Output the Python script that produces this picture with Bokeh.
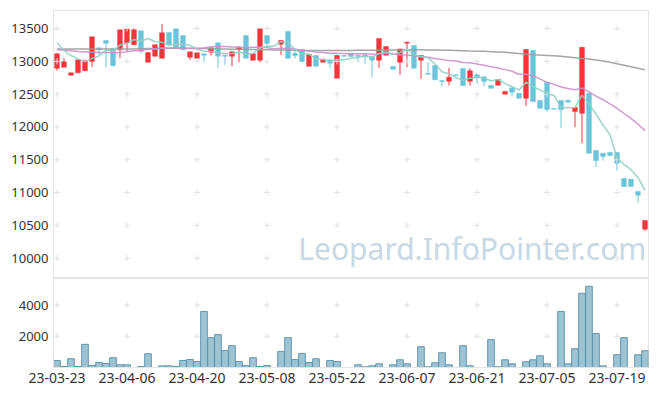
import numpy as np
from bokeh.plotting import figure
from bokeh.layouts import column
from bokeh.models import ColumnDataSource, Range1d, FixedTicker, Label
from bokeh.embed import file_html
from bokeh.resources import INLINE

# ---------------- data ----------------
tick_labels = ["23-03-23", "23-04-06", "23-04-20", "23-05-08", "23-05-22",
               "23-06-07", "23-06-21", "23-07-05", "23-07-19"]

opens = [12895, 12910, 12788, 12825, 12855, 12999, 13206, 13317, 13190, 13175,
         13282, 13252, 13465, 12987, 13078, 13047, 13439, 13495, 13393, 13063,
         13047, 13114, 13139, 13282, 13093, 13078, 13180, 13393, 13017, 13017,
         13393, None, 13261, 13454, 13119, 13180, 12926, 13089, 12987, 13023,
         12743, 13089, 13124, 13093, 13099, 13073, 13017, 13093, 12921, 12987,
         13276, 13241, 13017, 12814, 12936, 12707, 12697, 12794, 12890, 12697,
         12794, 12764, 12631, 12636, 12499, 12596, 12514, 12438, 13165, 12403,
         12682, 12281, 12403, 12408, 12235, 12209, 12514, 11641, 11600, 11610,
         11610, 11214, 11204, 11016, 10442]
closes = [13114, 12993, 12825, 13023, 13008, 13374, 13175, 13276, 12936, 13480,
          13495, 13480, 13150, 13134, 13252, 13434, 13256, 13215, 13175, 13145,
          13130, 13093, 13206, 13078, 13078, 13145, 13210, 13047, 13114, 13495,
          13276, None, 13317, 13047, 13089, 12997, 13104, 12926, 13033, 12972,
          13089, 13078, 13073, 13073, 13073, 13017, 13348, 13226, 12880, 13190,
          13291, 12895, 13089, 12804, 12718, 12692, 12758, 12784, 12631, 12855,
          12753, 12692, 12590, 12723, 12540, 12529, 12438, 13180, 12387, 12285,
          12266, 12271, 12266, 12377, 12296, 13215, 11600, 11488, 11549, 11565,
          11447, 11092, 11092, 10960, 10574]
highs = [13130, 13047, 12825, 13023, 13008, 13374, 13206, 13317, 13190, 13480,
         13495, 13500, 13465, 13134, 13252, 13571, 13439, 13495, 13393, 13145,
         13130, 13114, 13206, 13282, 13093, 13145, 13226, 13393, 13114, 13495,
         13393, None, 13317, 13454, 13165, 13180, 13104, 13089, 13033, 13023,
         13089, 13089, 13124, 13093, 13099, 13073, 13348, 13226, 12921, 13190,
         13302, 13241, 13089, 12987, 12936, 12707, 12901, 12794, 12890, 12895,
         12819, 12764, 12631, 12723, 12540, 12596, 12514, 13180, 13165, 12403,
         12682, 12281, 12403, 12408, 12296, 13215, 12514, 11641, 11600, 11610,
         11610, 11214, 11204, 11016, 10574]
lows = [12860, 12910, 12788, 12825, 12855, 12910, 13089, 12910, 12920, 13053,
        13150, 13252, 13124, 12987, 13078, 13047, 13256, 13215, 13175, 13023,
        13047, 12993, 13089, 12901, 12947, 12926, 12987, 13047, 13017, 12987,
        13206, None, 13099, 13047, 13047, 12997, 12926, 12926, 12987, 12901,
        12743, 13078, 13073, 12987, 12962, 12758, 12901, 13093, 12880, 12794,
        12910, 12895, 12733, 12804, 12718, 12621, 12631, 12784, 12631, 12631,
        12657, 12621, 12590, 12636, 12499, 12464, 12438, 12322, 12387, 12285,
        12235, 12271, 11987, 12377, 11996, 11752, 11600, 11386, 11488, 11565,
        11336, 11092, 11092, 10844, 10417]
volumes = [451, 65, 559, 65, 1484, 129, 322, 258, 624, 172,
           172, 0, 65, 882, 0, 108, 108, 65, 451, 516,
           387, 3590, 1913, 2107, 1096, 1397, 387, 129, 624, 65,
           129, 0, 1032, 1913, 516, 903, 322, 559, 0, 451,
           387, 0, 0, 172, 43, 108, 237, 0, 172, 495,
           237, 0, 1333, 43, 301, 946, 172, 0, 1398, 108,
           0, 0, 1785, 43, 495, 237, 0, 366, 495, 753,
           237, 0, 3590, 237, 1204, 4752, 5203, 2172, 108, 0,
           817, 1914, 0, 817, 1075]
ma5 = [13282, 13165, 13089, 13038, 12993, 13045, 13081, 13171, 13154, 13248,
       13272, 13333, 13308, 13348, 13302, 13290, 13245, 13258, 13266, 13245,
       13184, 13152, 13150, 13130, 13117, 13120, 13143, 13112, 13119, 13202,
       13228, 13233, 13300, 13284, 13182, 13113, 13111, 13033, 13030, 13006,
       13025, 13020, 13049, 13057, 13077, 13063, 13117, 13147, 13109, 13132,
       13187, 13096, 13069, 13054, 12959, 12840, 12812, 12751, 12717, 12744,
       12756, 12743, 12704, 12723, 12660, 12615, 12564, 12682, 12615, 12564,
       12511, 12478, 12295, 12293, 12295, 12485, 12351, 12195, 12030, 11883,
       11530, 11428, 11349, 11231, 11033]
ma20 = [13175, 13170, 13160, 13150, 13145, 13140, 13135, 13135, 13130, 13135,
        13145, 13160, 13170, 13180, 13190, 13200, 13205, 13205, 13200, 13197,
        13198, 13203, 13222, 13225, 13228, 13217, 13218, 13207, 13216, 13217,
        13206, 13191, 13200, 13195, 13187, 13164, 13156, 13141, 13133, 13124,
        13122, 13121, 13114, 13114, 13114, 13107, 13114, 13124, 13111, 13095,
        13096, 13086, 13075, 13062, 13044, 13029, 13011, 13004, 12984, 12978,
        12961, 12942, 12918, 12900, 12874, 12849, 12804, 12802, 12777, 12732,
        12680, 12649, 12608, 12587, 12566, 12592, 12534, 12469, 12415, 12351,
        12285, 12205, 12130, 12042, 11944]
ma120 = [13190, 13190, 13190, 13190, 13190, 13190, 13190, 13190, 13190, 13190,
         13190, 13190, 13192, 13194, 13196, 13198, 13200, 13200, 13200, 13198,
         13196, 13194, 13192, 13190, 13188, 13186, 13184, 13182, 13180, 13178,
         13176, 13174, 13172, 13170, 13168, 13166, 13165, 13165, 13165, 13165,
         13165, 13166, 13167, 13168, 13169, 13170, 13171, 13172, 13173, 13174,
         13175, 13175, 13175, 13174, 13172, 13170, 13168, 13165, 13162, 13158,
         13155, 13152, 13148, 13144, 13138, 13128, 13118, 13110, 13102, 13095,
         13090, 13084, 13076, 13066, 13055, 13045, 13035, 13020, 13005, 12985,
         12962, 12940, 12918, 12895, 12870]
price_ticks = [10000, 10500, 11000, 11500, 12000, 12500, 13000, 13500]
volume_ticks = [2000, 4000]

# ---------------- styling ----------------
RED = "#F0363C"
BLUE = "#6CC4DA"
FONT = "Noto Sans"
LABEL_COLOR = "#333333"
FRAME = "#e4e4e4"

o = np.array(opens, dtype=float)
c = np.array(closes, dtype=float)
h = np.array(highs, dtype=float)
l = np.array(lows, dtype=float)
v = np.array(volumes, dtype=float)
n = len(o)
xs = np.arange(n)
up = c > o
down = c <= o

x_range = Range1d(-0.5, n - 0.5)

p = figure(width=649, height=278, x_range=x_range, y_range=Range1d(9690, 13775),
           output_backend="svg", toolbar_location=None,
           min_border_left=53, min_border_right=1, min_border_top=10, min_border_bottom=0,
           background_fill_color="white", border_fill_color="white")
p.outline_line_color = FRAME
p.xaxis.visible = False
p.grid.visible = False
p.yaxis.ticker = FixedTicker(ticks=price_ticks)

for mask, col in ((up, RED), (down, BLUE)):
    src = ColumnDataSource(dict(x=xs[mask], o=o[mask], c=c[mask], h=h[mask], l=l[mask]))
    p.segment(x0="x", y0="h", x1="x", y1="l", source=src, line_color=col, line_width=1)
    p.vbar(x="x", width=0.68, top="o", bottom="c", source=src,
           fill_color=col, line_color=col, line_width=0.5)

# grid cross marks at tick intersections
gx, gy = np.meshgrid(np.arange(0, n, 10), price_ticks)
p.scatter(gx.ravel(), gy.ravel(), marker="cross", size=6, line_color="#e2e2e2", line_width=1)

p.line(xs, ma120, line_color="#9b9b9b", line_width=1.5, line_alpha=0.9)
p.line(xs, ma20, line_color="#cc8fcb", line_width=1.5, line_alpha=0.9)
p.line(xs, ma5, line_color="#8ed0c3", line_width=1.5, line_alpha=0.9)

p.add_layout(Label(x=n - 0.8, y=10140, text="Leopard.InfoPointer.com", text_align="right",
                   text_baseline="alphabetic", text_font=FONT, text_font_size="30px",
                   text_color="#C6D9E4"))

q = figure(width=649, height=114, x_range=x_range, y_range=Range1d(0, 5700),
           output_backend="svg", toolbar_location=None,
           min_border_left=53, min_border_right=1, min_border_top=0, min_border_bottom=25,
           background_fill_color="white", border_fill_color="white")
q.outline_line_color = FRAME
q.grid.visible = False
q.yaxis.ticker = FixedTicker(ticks=volume_ticks)
q.xaxis.ticker = FixedTicker(ticks=list(range(0, n, 10)))
q.xaxis.major_label_overrides = {i * 10: t for i, t in enumerate(tick_labels)}

vx, vy = np.meshgrid(np.arange(0, n, 10), volume_ticks)
q.scatter(vx.ravel(), vy.ravel(), marker="cross", size=6, line_color="#e2e2e2", line_width=1)
q.vbar(x=xs, width=0.95, top=v, bottom=0, fill_color="#93BCCE", fill_alpha=0.9,
       line_color="#6296AF", line_width=1)

for ax in (p.yaxis[0], q.yaxis[0], q.xaxis[0]):
    ax.axis_line_color = FRAME
    ax.major_tick_line_color = None
    ax.minor_tick_line_color = None
    ax.major_tick_out = 0
    ax.major_label_standoff = 5
    ax.major_label_text_font = FONT
    ax.major_label_text_font_size = "13px"
    ax.major_label_text_color = LABEL_COLOR
q.xaxis[0].major_label_text_font_size = "14px"

layout = column(p, q, spacing=0)
open("out.html", "w").write(file_html(layout, INLINE))
